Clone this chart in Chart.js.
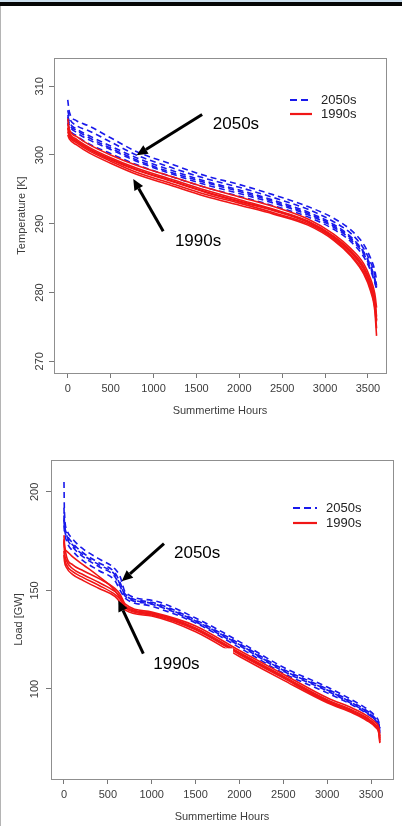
<!DOCTYPE html>
<html>
<head>
<meta charset="utf-8">
<script src="https://cdn.jsdelivr.net/npm/chart.js@4.4.1/dist/chart.umd.min.js"></script>
<style>
  body { margin: 0; background: #fff; width: 402px; height: 826px; overflow: hidden; position: relative; }
  #topline { position: absolute; left: 0; top: 0; width: 402px; height: 2px; background: #cde0ee; }
  #bar { position: absolute; left: 0; top: 2px; width: 402px; height: 4px; background: #060606; }
  #edge { position: absolute; left: 0; top: 6px; width: 1px; height: 820px; background: #b4b4b4; }
  canvas { position: absolute; left: 0; }
  #tempChart { top: 40px; }
  #loadChart { top: 420px; }
</style>
</head>
<body>
<div id="topline"></div>
<div id="bar"></div>
<div id="edge"></div>
<canvas id="tempChart" width="402" height="380"></canvas>
<canvas id="loadChart" width="402" height="406"></canvas>
<script>
// ---- data ----
const hourTicks = [0, 500, 1000, 1500, 2000, 2500, 3000, 3500];
const tempTicks = [270, 280, 290, 300, 310];
const loadTicks = [100, 150, 200];

// temperature duration curves [K]
const tempHours = [0, 20, 100, 250, 500, 800, 1200, 1600, 2000, 2400, 2800, 3100, 3300, 3450, 3530, 3580, 3600];
const temp2050s = [
  [308.0, 306.2, 305.0, 304.2, 302.5, 300.5, 298.7, 297.0, 295.7, 294.2, 292.5, 290.8, 289.1, 287.0, 285.0, 283.2, 281.8],
  [306.5, 305.4, 304.3, 303.5, 301.9, 300.0, 298.2, 296.6, 295.3, 293.8, 292.1, 290.3, 288.6, 286.4, 284.4, 282.6, 281.0],
  [305.8, 304.8, 303.8, 302.8, 301.3, 299.6, 297.8, 296.2, 294.9, 293.4, 291.7, 289.9, 288.1, 285.9, 283.9, 282.0, 280.8],
  [305.2, 304.3, 303.3, 302.2, 300.8, 299.1, 297.3, 295.7, 294.4, 293.0, 291.3, 289.5, 287.7, 285.6, 283.5, 281.7, 280.6],
  [304.7, 303.8, 302.8, 301.6, 300.2, 298.6, 296.9, 295.3, 294.0, 292.6, 291.0, 289.2, 287.4, 285.2, 283.2, 281.4, 280.5],
  [305.5, 304.5, 303.6, 302.5, 301.0, 299.3, 297.5, 296.0, 294.7, 293.2, 291.5, 289.7, 287.9, 285.8, 283.7, 281.8, 280.7]
];
const temp1990s = [
  [305.3, 303.7, 302.7, 301.5, 300.0, 298.5, 296.9, 295.3, 293.9, 292.5, 290.7, 288.5, 286.4, 284.2, 282.0, 279.8, 277.8],
  [304.5, 303.3, 302.3, 301.1, 299.6, 298.1, 296.5, 294.9, 293.5, 292.1, 290.4, 288.2, 286.1, 283.8, 281.5, 279.0, 276.5],
  [303.9, 302.9, 302.0, 300.8, 299.3, 297.8, 296.2, 294.6, 293.2, 291.9, 290.2, 288.0, 285.8, 283.4, 281.0, 278.4, 275.8],
  [303.4, 302.6, 301.8, 300.6, 299.1, 297.5, 295.9, 294.3, 293.0, 291.6, 290.0, 287.8, 285.5, 283.0, 280.6, 277.8, 274.8],
  [302.9, 302.3, 301.5, 300.3, 298.8, 297.2, 295.6, 294.0, 292.7, 291.4, 289.8, 287.6, 285.3, 282.7, 280.2, 277.3, 273.7],
  [304.0, 303.0, 302.1, 300.9, 299.4, 297.9, 296.3, 294.7, 293.3, 292.0, 290.3, 288.1, 285.9, 283.5, 281.2, 278.6, 276.0]
];

// load duration curves [GW]
const loadHours = [0, 5, 30, 100, 220, 400, 580, 640, 700, 1000, 1500, 2000, 2500, 3000, 3300, 3450, 3550, 3590, 3600];
const load2050s = [
  [205, 190, 181, 176, 171, 166, 161, 157, 149, 145, 136, 124, 111, 101, 94, 90, 86, 83, 80],
  [192, 185, 179, 174, 169, 164, 159, 154, 148, 144, 135, 123, 110, 100, 93, 89, 85, 82, 79],
  [186, 182, 177, 172, 167, 162, 157, 152, 147, 143, 134, 122, 109, 99, 92, 88, 84, 81, 78],
  [183, 180, 175, 170, 165, 160, 155, 150, 146, 142, 133.5, 121, 108, 98, 91.5, 87.5, 84, 80.5, 77.5],
  [188, 183, 178, 173, 168, 163, 158, 153, 147.5, 143.5, 134.5, 122.5, 109.5, 99.5, 92.5, 88.5, 84.5, 81.5, 78.5]
];
const load1990s = [
  [178, 174, 167, 163, 160, 156, 151, 148, 143, 139, 132, 119.5, 107.5, 95.5, 90, 86.5, 83, 80, 76],
  [175, 170, 165, 161, 158, 154, 149.5, 147, 142, 138.5, 131, 118.5, 106.5, 94.5, 89, 85.5, 82, 79, 75],
  [170, 167, 163, 159.5, 156.5, 152.5, 148, 145.5, 141, 137.5, 130, 117.5, 105.5, 93.5, 88, 84.5, 81, 78, 73],
  [168, 165, 161.5, 158, 155, 151, 147, 144, 140, 137, 129, 116.5, 104.5, 93, 87.5, 84, 80.5, 77, 72.5],
  [176, 172, 170, 167, 163, 157, 150, 146, 141.5, 138, 130.5, 118, 106, 94, 88.5, 85, 81.5, 78.5, 74]
];

const BLUE = 'rgb(25,25,235)';
const RED = 'rgb(240,22,22)';
const FONT = '"Liberation Sans", Arial, sans-serif';
const AXIS_GREY = '#3c3c3c';

function toPoints(hours, vals) {
  return hours.map((h, i) => ({ x: h, y: vals[i] }));
}

function buildDatasets(hours, future, past) {
  const sets = [];
  past.forEach(v => sets.push({
    data: toPoints(hours, v), borderColor: RED, borderWidth: 1.6,
    pointRadius: 0, cubicInterpolationMode: 'monotone', fill: false
  }));
  future.forEach(v => sets.push({
    data: toPoints(hours, v), borderColor: BLUE, borderWidth: 1.6, borderDash: [6, 4],
    pointRadius: 0, cubicInterpolationMode: 'monotone', fill: false
  }));
  return sets;
}

// box around the plot region, like base R
const frame = {
  id: 'frame',
  afterDraw(chart) {
    const { ctx, chartArea: a } = chart;
    ctx.save();
    ctx.strokeStyle = '#8f8f8f';
    ctx.lineWidth = 1;
    ctx.strokeRect(Math.round(a.left) + 0.5, Math.round(a.top) + 0.5, Math.round(a.right - a.left), Math.round(a.bottom - a.top));
    ctx.restore();
  }
};

// y tick labels read upward (R style)
const yLabels = {
  id: 'yLabels',
  afterDraw(chart, args, opts) {
    const { ctx } = chart;
    const y = chart.scales.y;
    ctx.save();
    ctx.font = '11px ' + FONT;
    ctx.fillStyle = AXIS_GREY;
    ctx.textAlign = 'center';
    ctx.textBaseline = 'middle';
    opts.ticks.forEach(v => {
      ctx.save();
      ctx.translate(opts.x, y.getPixelForValue(v));
      ctx.rotate(-Math.PI / 2);
      ctx.fillText(String(v), 0, 0);
      ctx.restore();
    });
    ctx.restore();
  }
};

// legend drawn inside the plot, top right
const rLegend = {
  id: 'rLegend',
  afterDraw(chart, args, opts) {
    const { ctx, chartArea: a } = chart;
    const items = [
      { text: '2050s', color: BLUE, dash: [7, 4] },
      { text: '1990s', color: RED, dash: [] }
    ];
    ctx.save();
    ctx.font = '13px ' + FONT;
    ctx.textBaseline = 'middle';
    items.forEach((it, i) => {
      const yy = a.top + opts.top + i * opts.gap;
      ctx.strokeStyle = it.color;
      ctx.lineWidth = 2.2;
      ctx.setLineDash(it.dash);
      ctx.beginPath();
      ctx.moveTo(a.right - opts.lineStart, yy);
      ctx.lineTo(a.right - opts.lineStart + opts.lineLen, yy);
      ctx.stroke();
      ctx.setLineDash([]);
      ctx.fillStyle = '#222';
      ctx.fillText(it.text, a.right - opts.textStart, yy);
    });
    ctx.restore();
  }
};

// arrows with labels, given in data units
const arrows = {
  id: 'arrows',
  afterDraw(chart, args, opts) {
    const { ctx } = chart;
    const xs = chart.scales.x, ys = chart.scales.y;
    ctx.save();
    (opts.masks || []).forEach(m => {
      const x0 = xs.getPixelForValue(m.x0), x1 = xs.getPixelForValue(m.x1);
      const y0 = ys.getPixelForValue(m.y0), y1 = ys.getPixelForValue(m.y1);
      ctx.fillStyle = '#fff';
      ctx.fillRect(x0, y0, x1 - x0, y1 - y0);
    });
    opts.items.forEach(it => {
      const tx = xs.getPixelForValue(it.from[0]), ty = ys.getPixelForValue(it.from[1]);
      const hx = xs.getPixelForValue(it.to[0]), hy = ys.getPixelForValue(it.to[1]);
      const ang = Math.atan2(hy - ty, hx - tx);
      const len = 11, half = 5;
      const bx = hx - len * Math.cos(ang), by = hy - len * Math.sin(ang);
      ctx.strokeStyle = '#000';
      ctx.lineWidth = 3;
      ctx.beginPath();
      ctx.moveTo(tx, ty);
      ctx.lineTo(bx, by);
      ctx.stroke();
      ctx.fillStyle = '#000';
      ctx.beginPath();
      ctx.moveTo(hx, hy);
      ctx.lineTo(bx + half * Math.sin(ang), by - half * Math.cos(ang));
      ctx.lineTo(bx - half * Math.sin(ang), by + half * Math.cos(ang));
      ctx.closePath();
      ctx.fill();
      ctx.font = '17px ' + FONT;
      ctx.textBaseline = 'middle';
      ctx.textAlign = 'left';
      ctx.fillText(it.label, xs.getPixelForValue(it.at[0]), ys.getPixelForValue(it.at[1]));
    });
    ctx.restore();
  }
};

function axisX(min, max) {
  return {
    type: 'linear', min, max,
    afterFit: s => { s.height = 47; },
    afterBuildTicks: s => { s.ticks = hourTicks.map(v => ({ value: v })); },
    border: { display: false },
    grid: { drawOnChartArea: false, drawTicks: true, tickLength: 5, color: '#777' },
    ticks: {
      color: AXIS_GREY, font: { family: FONT, size: 11 }, padding: 4, maxRotation: 0, autoSkip: false,
      callback: v => String(v)
    },
    title: { display: true, text: 'Summertime Hours', color: AXIS_GREY, font: { family: FONT, size: 11 }, padding: { top: 0, bottom: 2 } }
  };
}

function axisY(min, max, ticks, width, title, titlePad) {
  return {
    type: 'linear', min, max,
    afterFit: s => { s.width = width; },
    afterBuildTicks: s => { s.ticks = ticks.map(v => ({ value: v })); },
    border: { display: false },
    grid: { drawOnChartArea: false, drawTicks: true, tickLength: 5, color: '#777' },
    ticks: { display: false },
    title: { display: true, text: title, color: AXIS_GREY, font: { family: FONT, size: 11 }, padding: { top: titlePad, bottom: 0 } }
  };
}

const basePlugins = { legend: { display: false }, tooltip: { enabled: false } };

new Chart(document.getElementById('tempChart'), {
  type: 'line',
  data: { datasets: buildDatasets(tempHours, temp2050s, temp1990s) },
  options: {
    responsive: false, animation: false, devicePixelRatio: 1,
    layout: { padding: { top: 18, right: 16, left: 0, bottom: 0 } },
    scales: {
      x: axisX(-160, 3710),
      y: axisY(268.3, 314.1, tempTicks, 54, 'Temperature [K]', 15)
    },
    plugins: {
      ...basePlugins,
      yLabels: { ticks: tempTicks, x: 40 },
      rLegend: { top: 42, gap: 14, lineStart: 96, lineLen: 22, textStart: 65 },
      arrows: {
        items: [
          { from: [1567, 305.9], to: [803, 299.95], label: '2050s', at: [1691, 304.45] },
          { from: [1113, 288.9], to: [764, 296.5], label: '1990s', at: [1249, 287.5] }
        ]
      }
    }
  },
  plugins: [frame, yLabels, rLegend, arrows]
});

new Chart(document.getElementById('loadChart'), {
  type: 'line',
  data: { datasets: buildDatasets(loadHours, load2050s, load1990s) },
  options: {
    responsive: false, animation: false, devicePixelRatio: 1,
    layout: { padding: { top: 40, right: 9, left: 0, bottom: 0 } },
    scales: {
      x: axisX(-148, 3750),
      y: axisY(54.3, 216.2, loadTicks, 51, 'Load [GW]', 12)
    },
    plugins: {
      ...basePlugins,
      yLabels: { ticks: loadTicks, x: 35 },
      rLegend: { top: 48, gap: 15, lineStart: 100, lineLen: 24, textStart: 67 },
      arrows: {
        masks: [{ x0: 1721, x1: 1927, y0: 120.6, y1: 115.0 }],
        items: [
          { from: [1140, 173.7], to: [658, 154.7], label: '2050s', at: [1254, 168.6] },
          { from: [904, 117.9], to: [619, 144.9], label: '1990s', at: [1018, 112.3] }
        ]
      }
    }
  },
  plugins: [frame, yLabels, rLegend, arrows]
});
</script>
</body>
</html>
